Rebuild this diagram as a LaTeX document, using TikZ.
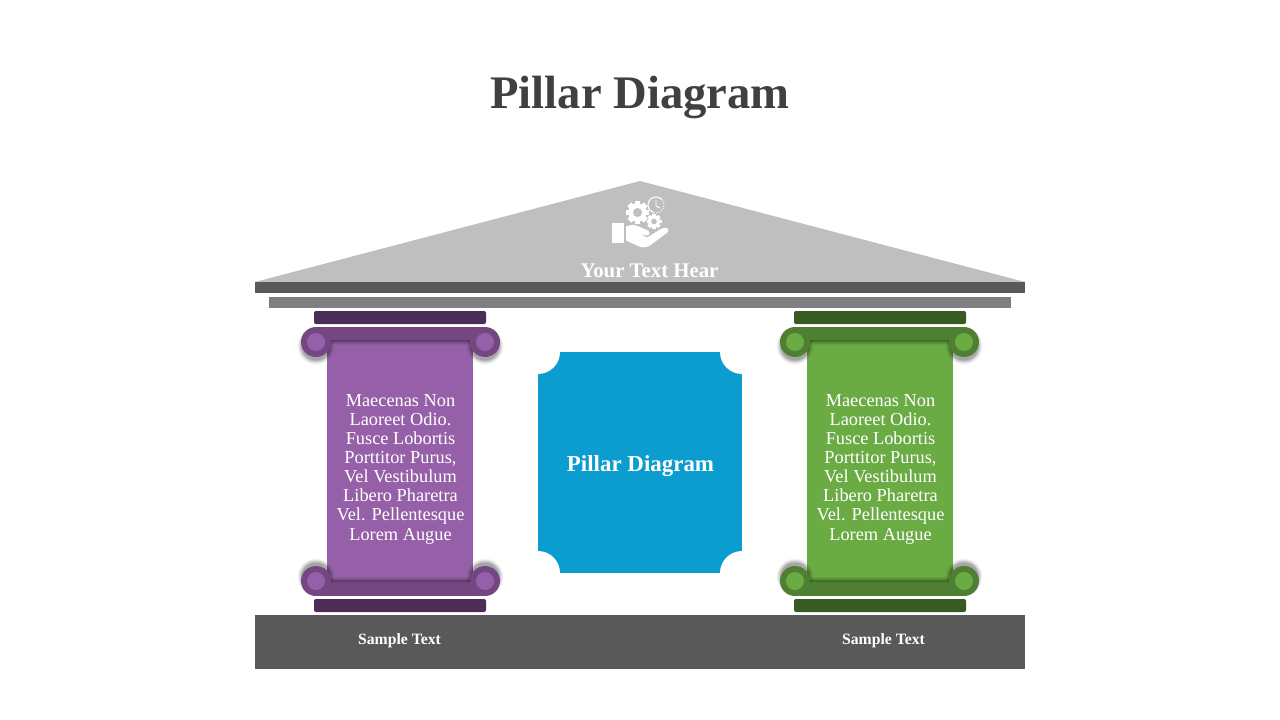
\documentclass[tikz,border=0pt]{standalone}
\usepackage{fontspec}
\setmainfont{Liberation Serif}
\definecolor{roofc}{HTML}{BFBFBF}
\definecolor{darkg}{HTML}{595959}
\definecolor{midg}{HTML}{7F7F7F}
\definecolor{titlec}{HTML}{404040}
\definecolor{bluec}{HTML}{0B9DD0}
\definecolor{pbody}{HTML}{9660A8}
\definecolor{pband}{HTML}{744783}
\definecolor{pcap}{HTML}{4B2D58}
\definecolor{gbody}{HTML}{6AAB44}
\definecolor{gband}{HTML}{4F7F32}
\definecolor{gcap}{HTML}{375A22}
\tikzset{
  x=0.75pt,y=-0.75pt,
  bodytext/.style={text=white,align=center,font=\fontsize{13.75}{14.36}\selectfont,inner sep=0pt},
  labeltext/.style={text=white,font=\fontsize{11.8}{14}\selectfont\bfseries,inner sep=0pt},
}
% column: #1 shift, #2 body, #3 band, #4 cap, #5 name, #6 extra shift of the band
\newcommand{\columnshape}[6]{%
\begin{scope}[xshift=#1*0.75pt]
  \fill[#4,rounded corners=1.5pt] (314,311) rectangle (486,324);
  \fill[#4,rounded corners=1.5pt] (314,599) rectangle (486,612);
  \fill[#2] (327,340) rectangle (473,582);
  \foreach \d/\o in {5/0.05,4/0.07,3/0.09,2/0.11,1/0.13}{
    \fill[black,opacity=\o] (329,340) rectangle (471,340+\d);
    \fill[black,opacity=\o] (329,582-\d) rectangle (471,582);
  }
  \begin{scope}[xshift=#6*0.75pt]
  % soft shadows of the four volutes
  \foreach \r/\o in {18.5/0.04,17.5/0.06,16.5/0.08,15.5/0.10,14.5/0.12}{
    \fill[black,opacity=\o] (316,346) circle (\r);
    \fill[black,opacity=\o] (485,346) circle (\r);
    \fill[black,opacity=\o] (316,577) circle (\r);
    \fill[black,opacity=\o] (485,577) circle (\r);
  }
  \fill[#3] (316,327) rectangle (485,340);
  \fill[#3] (316,582) rectangle (485,596);
  \fill[#3] (316,342) circle (15);
  \fill[#3] (485,342) circle (15);
  \fill[#3] (316,581) circle (15);
  \fill[#3] (485,581) circle (15);
  \fill[#2] (316,342) circle (9);
  \fill[#2] (485,342) circle (9);
  \fill[#2] (316,581) circle (9);
  \fill[#2] (485,581) circle (9);
  \end{scope}
  \node[bodytext] (#5) at (400.5,469) {Maecenas Non\\Laoreet Odio.\\Fusce Lobortis\\Porttitor Purus,\\Vel Vestibulum\\Libero Pharetra\\Vel. Pellentesque\\Lorem Augue};
\end{scope}}
% gear: #1 x, #2 y, #3 outer radius, #4 hole radius, #5 tooth half-width
\newcommand{\gearshape}[5]{%
  \fill[white] (#1,#2) circle (#3*0.8);
  \foreach \a in {0,45,...,315}{
    \fill[white,rotate around={\a:(#1,#2)}] (#1-#5,#2) rectangle (#1+#5,#2-#3);
  }
  \fill[roofc] (#1,#2) circle (#4);
}
\begin{document}
\begin{tikzpicture}
\useasboundingbox (0,0) rectangle (1280,720);
\fill[white] (0,0) rectangle (1280,720);
\node[text=titlec,font=\fontsize{35}{40}\selectfont\bfseries,inner sep=0pt] (title) at (640,97) {Pillar Diagram};
% roof
\fill[roofc] (640,181) -- (1025,282) -- (255,282) -- cycle;
\fill[darkg] (255,282) rectangle (1025,293);
\fill[midg] (269,297) rectangle (1011,308);
\fill[darkg] (255,615) rectangle (1025,669);
% icon
\fill[white] (612,223) rectangle (624,243);
\fill[white] (626,226.5) .. controls (632,223.5) and (637,225.5) .. (641,227.5)
  -- (648,230.5) .. controls (651,232.5) and (649,236) .. (646,235.5)
  -- (640,234) -- (647,237.5) -- (661,229) .. controls (665,226.5) and (670,227.5) .. (668,232)
  -- (650,245.5) .. controls (645,248.5) and (641,247.5) .. (637,245.5)
  -- (626,240.5) -- cycle;
\gearshape{637.5}{212.5}{11.5}{4.5}{2.8}
\gearshape{654}{221.5}{7.5}{2.8}{1.8}
\draw[white,line width=0.8pt] (656,205) +(-40:8) arc (-40:-250:8);
\draw[white,line width=0.6pt,dash pattern=on 1pt off 1pt] (656,205) +(110:8) arc (110:-40:8);
\draw[white,line width=0.7pt] (656,200) -- (656,206) -- (660,208);
\node[text=white,font=\fontsize{15.6}{18}\selectfont\bfseries,inner sep=0pt] (roofl) at (649.5,270.5) {Your Text Hear};
% centre panel
\fill[bluec] (538,352) rectangle (742,573);
\fill[white] (538,352) circle (22);
\fill[white] (742,352) circle (22);
\fill[white] (538,573) circle (22);
\fill[white] (742,573) circle (22);
\node[text=white,font=\fontsize{17.2}{20}\selectfont\bfseries,inner sep=0pt] (centre) at (640.5,466) {Pillar Diagram};
% columns
\columnshape{0}{pbody}{pband}{pcap}{lefttext}{0}
\columnshape{480}{gbody}{gband}{gcap}{righttext}{-1}
\node[labeltext] (sl) at (399.5,641) {Sample Text};
\node[labeltext] (sr) at (883.5,641) {Sample Text};
\end{tikzpicture}
\end{document}
